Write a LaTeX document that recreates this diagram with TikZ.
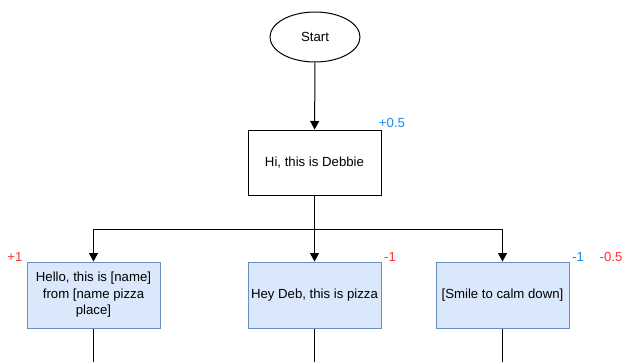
\documentclass[tikz,border=0pt]{standalone}
\usepackage{fontspec}
\setmainfont{Liberation Sans}
\usetikzlibrary{shapes.geometric,arrows.meta}
\definecolor{boxfill}{HTML}{DAE8FC}
\definecolor{boxdraw}{HTML}{6C8EBF}
\definecolor{lblblue}{HTML}{1E88E5}
\definecolor{lblred}{HTML}{FF3333}
\definecolor{linegray}{HTML}{000000}
\begin{document}
\begin{tikzpicture}[x=1pt,y=-1pt,
  every node/.style={font=\fontsize{13.2}{16.5}\selectfont, inner sep=0pt},
  plainbox/.style={draw=black, line width=1pt, minimum width=133pt, minimum height=65pt, align=center},
  bluebox/.style={draw=boxdraw, fill=boxfill, line width=1pt, minimum width=133pt, minimum height=66pt, align=center},
  startnode/.style={ellipse, draw=black, line width=1pt, minimum width=90pt, minimum height=50pt},
  conn/.style={draw=linegray, line width=1pt},
  arr/.style={conn, -{Triangle[width=9pt,length=8.5pt]}},
  lblb/.style={text=lblblue},
  lblr/.style={text=lblred}]
\useasboundingbox (0,0) rectangle (623,362);
\node[startnode] (start) at (315,37) {Start};
\node[plainbox] (debbie) at (314.5,162.5) {Hi, this is Debbie};
\node[bluebox] (left) at (93.5,295) {Hello, this is [name]\\from [name pizza\\place]};
\node[bluebox] (mid) at (314.5,295) {Hey Deb, this is pizza};
\node[bluebox] (right) at (502.5,295) {[Smile to calm down]};
\coordinate (j) at (314.5,229);
\coordinate (lo) at (93.5,362);
\coordinate (mo) at (314.5,362);
\coordinate (ro) at (502.5,362);
\draw[arr] (start) -- (debbie);
\draw[conn] (debbie) -- (j);
\draw[arr] (j) -| (left.north);
\draw[arr] (j) -- (mid.north);
\draw[arr] (j) -| (right.north);
\draw[conn] (left.south) -- (lo);
\draw[conn] (mid.south) -- (mo);
\draw[conn] (right.south) -- (ro);
\node[lblb] (l1) at (392,123) {+0.5};
\node[lblr] (l2) at (15,257) {+1};
\node[lblr] (l3) at (390,257) {-1};
\node[lblb] (l4) at (578,257) {-1};
\node[lblr] (l5) at (611,257) {-0.5};
\end{tikzpicture}
\end{document}
